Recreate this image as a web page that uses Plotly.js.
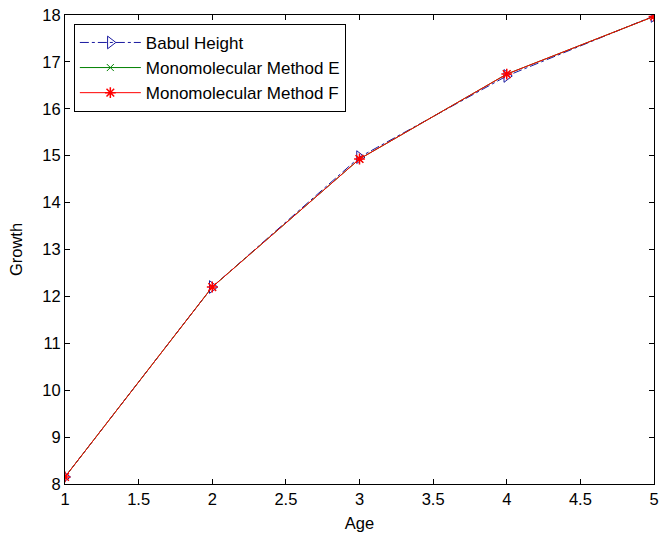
<!DOCTYPE html>
<html>
<head>
<meta charset="utf-8">
<script src="https://cdn.plot.ly/plotly-3.0.1.min.js"></script>
<style>html,body{margin:0;padding:0;background:#fff;}#chart{width:660px;height:537px;}</style>
</head>
<body>
<div id="chart"></div>
<script>
const age = [1, 2, 3, 4, 5];
const babulHeight = [8.15, 12.2, 14.97, 16.7, 17.98];
const methodE = [8.15, 12.2, 14.93, 16.74, 17.97];
const methodF = [8.15, 12.2, 14.93, 16.74, 17.97];
const xTicks = [1, 1.5, 2, 2.5, 3, 3.5, 4, 4.5, 5];
const yTicks = [8, 9, 10, 11, 12, 13, 14, 15, 16, 17, 18];

const font = {family: 'Liberation Sans, Arial, sans-serif', size: 16.5, color: '#000'};
const legendFont = {family: 'Liberation Sans, Arial, sans-serif', size: 17, color: '#000'};

const traces = [
  {x: age, y: babulHeight, name: 'Babul Height', mode: 'lines+markers',
   line: {color: '#1a1aa0', width: 1, dash: 'dashdot'},
   marker: {symbol: 'triangle-right-open', size: 11, color: '#1a1aa0', line: {width: 1, color: '#1a1aa0'}}},
  {x: age, y: methodE, name: 'Monomolecular Method E', mode: 'lines+markers',
   line: {color: '#008000', width: 1},
   marker: {symbol: 'x-thin-open', size: 7, color: '#008000', line: {width: 1, color: '#008000'}}},
  {x: age, y: methodF, name: 'Monomolecular Method F', mode: 'lines+markers',
   line: {color: '#ff0000', width: 1},
   marker: {symbol: 'asterisk-open', size: 9, color: '#ff0000', line: {width: 1.5, color: '#ff0000'}}}
];

const axisCommon = {
  showgrid: false, zeroline: false, showline: true, linecolor: '#000', linewidth: 1,
  mirror: 'ticks', ticks: 'inside', ticklen: 5, tickcolor: '#000', tickwidth: 1,
  tickfont: font
};

const layout = {
  width: 660, height: 537,
  margin: {l: 65, r: 6, t: 15, b: 53},
  paper_bgcolor: '#fff', plot_bgcolor: '#fff',
  font: font,
  showlegend: true,
  legend: {x: 0.015, y: 0.981, xanchor: 'left', yanchor: 'top',
           bordercolor: '#000', borderwidth: 1, bgcolor: '#fff',
           font: legendFont, itemwidth: 61, tracegroupgap: 0},
  xaxis: Object.assign({}, axisCommon, {range: [1, 5], tickvals: xTicks, ticktext: xTicks.map(String),
          title: {text: 'Age', font: font, standoff: 10}}),
  yaxis: Object.assign({}, axisCommon, {range: [8, 18], tickvals: yTicks, ticktext: yTicks.map(String),
          title: {text: 'Growth', font: font, standoff: 15}})
};

Plotly.newPlot('chart', traces, layout, {displayModeBar: false, staticPlot: true});
</script>
</body>
</html>
